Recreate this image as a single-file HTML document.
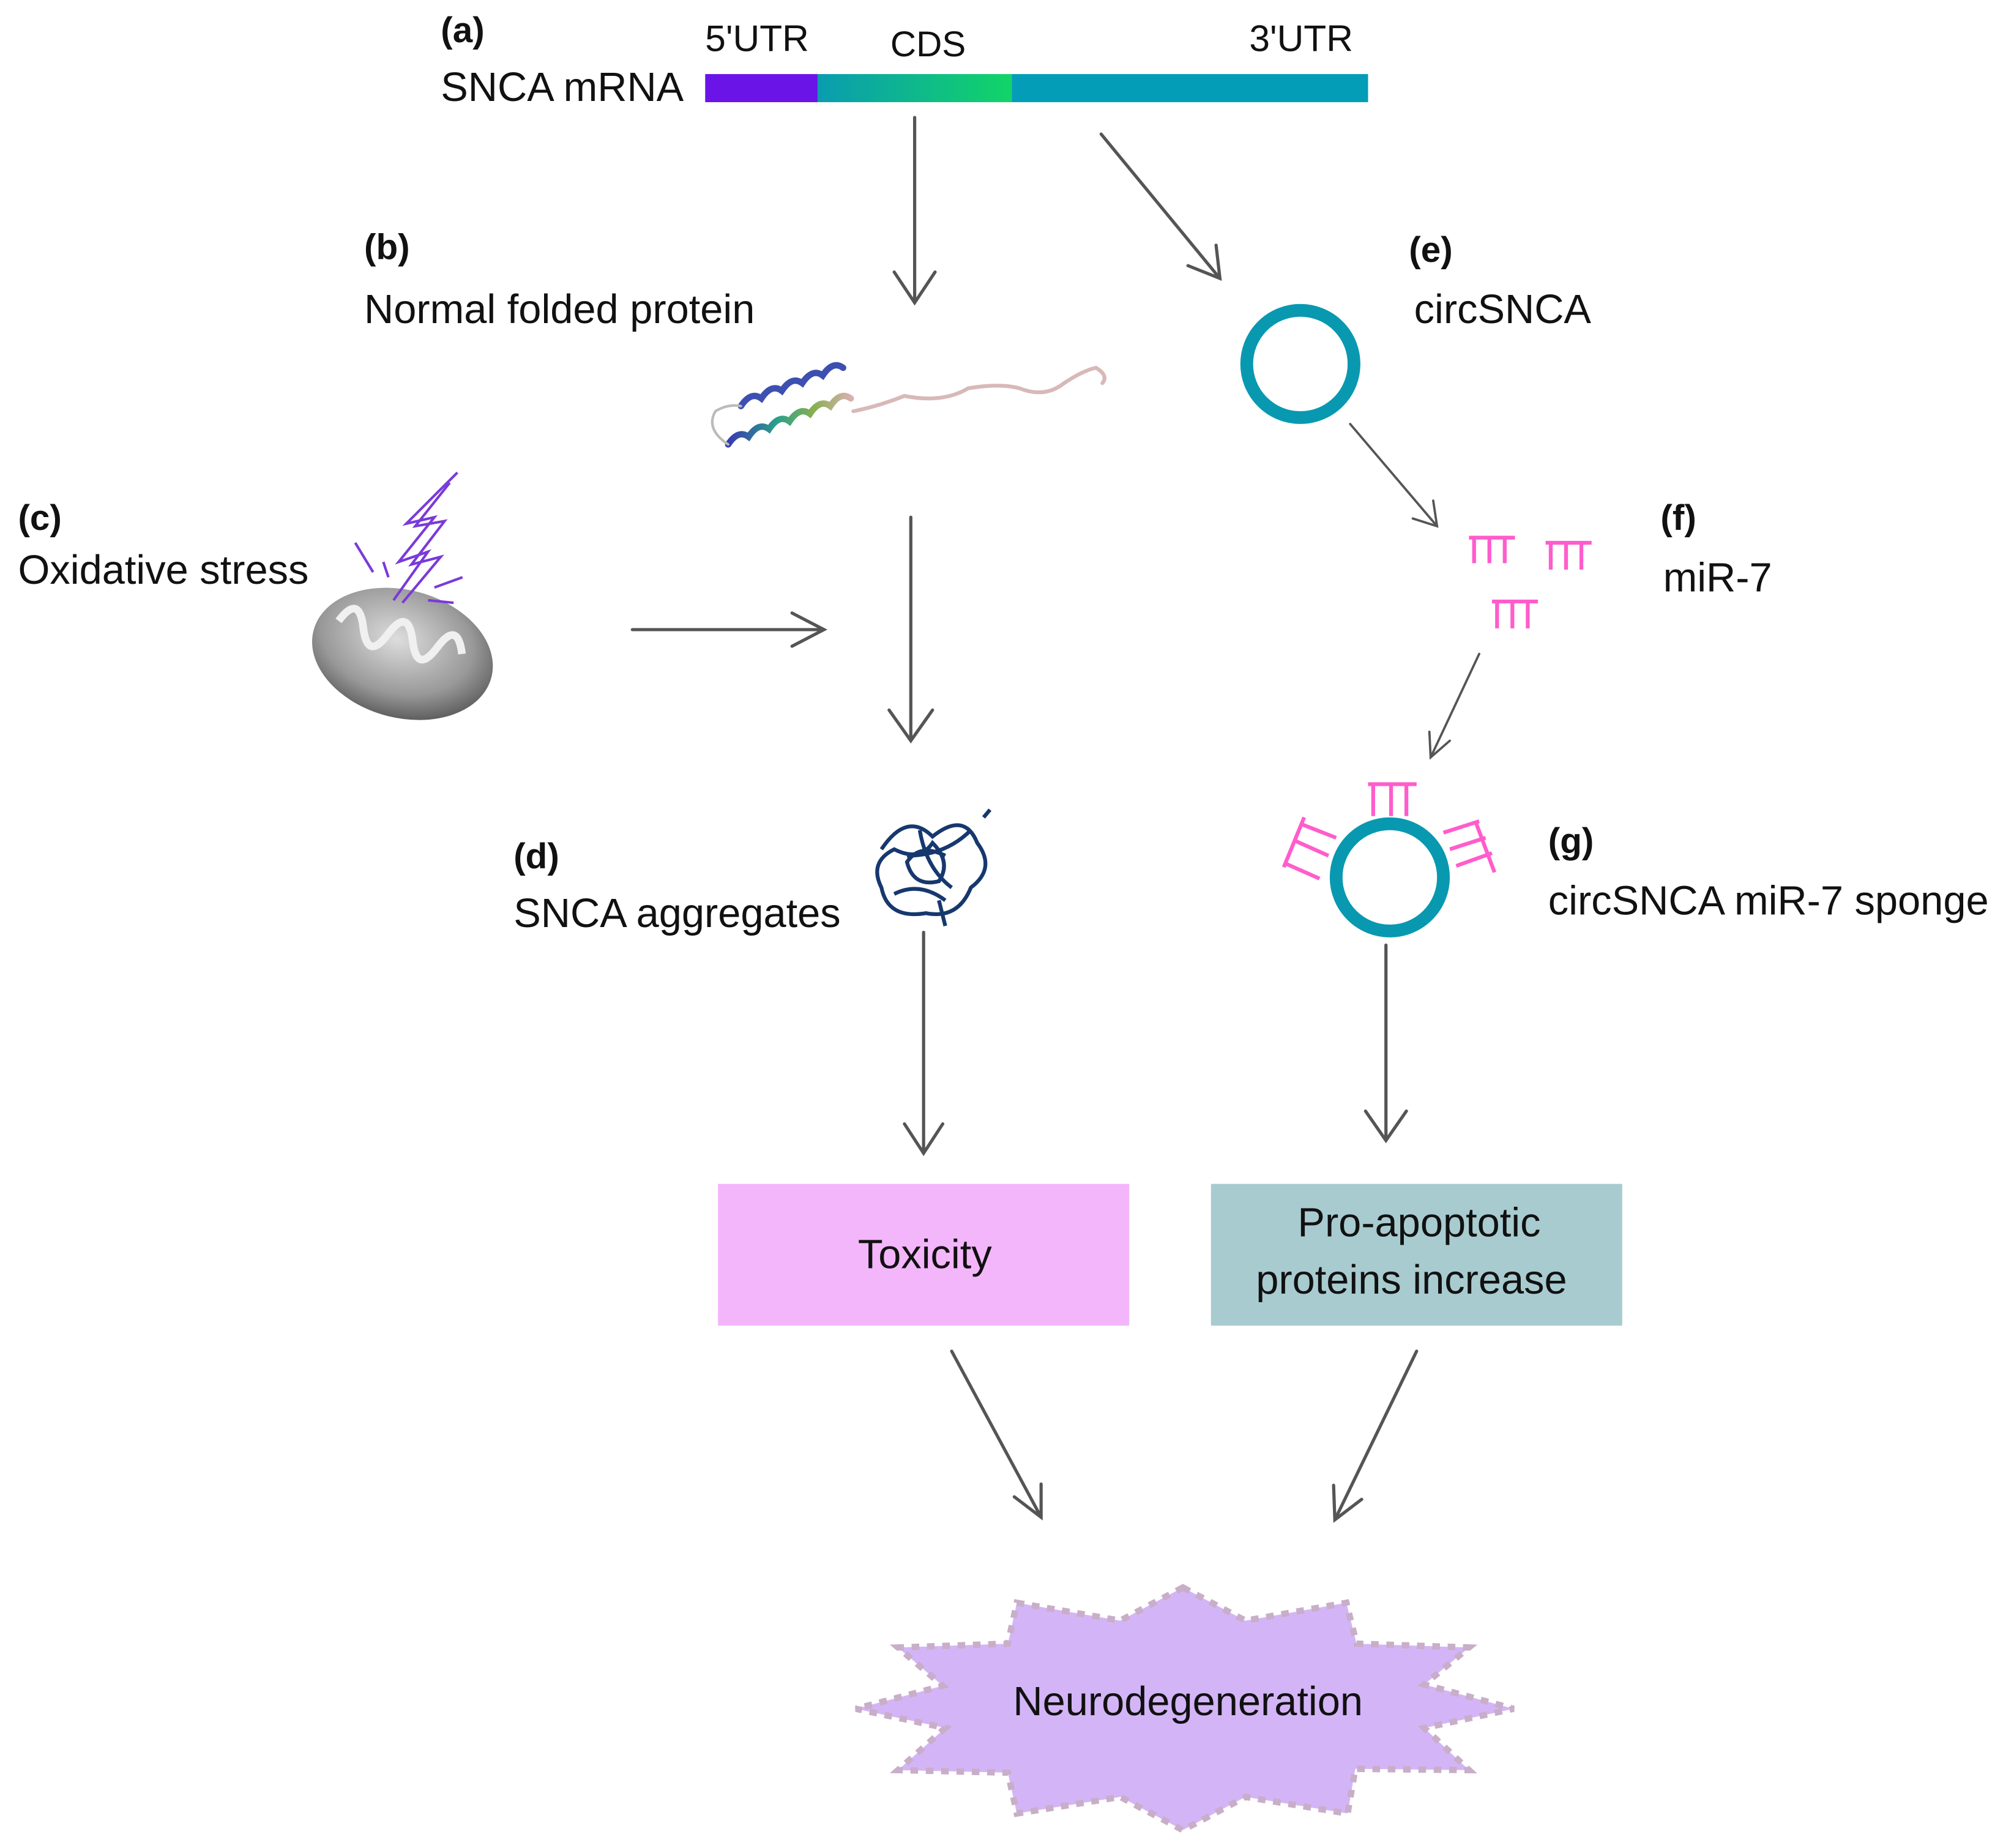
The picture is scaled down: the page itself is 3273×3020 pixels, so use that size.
<!DOCTYPE html>
<html><head><meta charset="utf-8"><style>
html,body{margin:0;padding:0;background:#fff;}
svg{display:block;}
text{font-family:"Liberation Sans",Arial,sans-serif;fill:#111;}
</style></head><body>
<svg width="3273" height="3020" viewBox="0 0 1568 1447" xmlns="http://www.w3.org/2000/svg">
<defs>
<linearGradient id="cds" x1="0" x2="1"><stop offset="0" stop-color="#0a9cb0"/><stop offset="1" stop-color="#12d468"/></linearGradient>
<radialGradient id="mito" cx="0.45" cy="0.4" r="0.7"><stop offset="0" stop-color="#ddd"/><stop offset="0.6" stop-color="#999"/><stop offset="1" stop-color="#444"/></radialGradient>
<linearGradient id="helix" x1="0" x2="1"><stop offset="0" stop-color="#3a3ab0"/><stop offset="0.4" stop-color="#2aa08a"/><stop offset="0.7" stop-color="#88b050"/><stop offset="1" stop-color="#d8b0b0"/></linearGradient>
</defs>
<rect width="1568" height="1447" fill="#fff"/>

<rect x="552" y="58" width="88" height="22" fill="#6a14e8"/>
<rect x="640" y="58" width="152" height="22" fill="url(#cds)"/>
<rect x="792" y="58" width="279" height="22" fill="#049db8"/>
<text x="345" y="33" font-size="28" font-weight="bold">(a)</text>
<text x="345" y="79" font-size="32">SNCA mRNA</text>
<text x="552" y="40" font-size="29">5'UTR</text>
<text x="697" y="44" font-size="28">CDS</text>
<text x="978" y="40" font-size="29">3'UTR</text>

<g stroke="#555" stroke-width="2.5" fill="none" stroke-linecap="round">
<path d="M716 92 V237 M700 213 L716 237 L732 213"/>
<path d="M862 105 L955 218 M930 208 L955 218 L952 192"/>
<path d="M495 493 H645 M620 480 L645 493 L620 506"/>
<path d="M713 405 V580 M696 556 L713 580 L730 556"/>
<path d="M723 730 V903 M708 880 L723 903 L738 880"/>
<path d="M745 1058 L815 1188 M794 1172 L815 1188 L815 1162"/>
<path d="M1109 1058 L1045 1190 M1044 1163 L1045 1190 L1066 1174"/>
<path d="M1085 740 V893 M1069 870 L1085 893 L1101 870"/>
</g>
<g stroke="#555" stroke-width="1.8" fill="none" stroke-linecap="round">
<path d="M1057 332 L1125 412 M1106 406 L1125 412 L1122 392"/>
<path d="M1158 512 L1120 593 M1119 573 L1120 593 L1135 580"/>
</g>

<text x="285" y="203" font-size="28" font-weight="bold">(b)</text>
<text x="285" y="253" font-size="32">Normal folded protein</text>
<g fill="none" stroke-linecap="round">
<path d="M580 318 q8 -12 16 -6 q8 -12 16 -6 q8 -12 16 -6 q8 -12 16 -6 q8 -12 16 -6" stroke="#3d4fb0" stroke-width="5"/>
<path d="M570 348 q8 -12 16 -6 q8 -12 16 -6 q8 -12 16 -6 q8 -12 16 -6 q8 -12 16 -6 q8 -12 16 -6" stroke="url(#helix)" stroke-width="5"/>
<path d="M570 348 q-18 -12 -10 -26 q10 -6 20 -4" stroke="#bbb" stroke-width="2"/>
<path d="M668 322 q20 -4 40 -12 q30 6 50 -6 q25 -4 40 0 q20 8 35 -4 q15 -10 25 -12 q10 6 5 12" stroke="#d8b8b8" stroke-width="3"/>
</g>

<text x="14" y="415" font-size="28" font-weight="bold">(c)</text>
<text x="14" y="457" font-size="32">Oxidative stress</text>
<ellipse cx="315" cy="512" rx="72" ry="50" transform="rotate(15 315 512)" fill="url(#mito)"/>
<path d="M260 500 q10 -25 20 0 q10 25 20 0 q10 -25 20 0 q10 25 20 0 q10 -25 20 0" stroke="#f0f0f0" stroke-width="6" fill="none" transform="rotate(15 315 512)"/>
<g stroke="#7a3ad8" stroke-width="2" fill="none">
<path d="M358 370 L318 410 L340 405 L312 440 L335 432 L308 470"/>
<path d="M352 378 L325 412 L348 408 L322 442 L345 436 L315 472"/>
<path d="M278 425 L292 448 M300 440 L304 452 M340 460 L362 452 M335 470 L355 472"/>
</g>

<text x="402" y="680" font-size="28" font-weight="bold">(d)</text>
<text x="402" y="726" font-size="32">SNCA aggregates</text>
<g stroke="#16386e" stroke-width="3" fill="none">
<path d="M690 665 q20 -30 40 -10 q25 -20 35 5 q15 20 -5 35 q-10 25 -35 20 q-30 5 -35 -20 q-10 -20 10 -30 q20 10 30 -5 q15 15 5 30 q-20 5 -25 -15 q10 -15 30 -5 M700 700 q20 -10 40 5 M720 650 q5 30 25 45 M760 650 q-20 20 -50 20"/>
<path d="M735 705 L740 725 M770 640 l5 -6"/>
</g>

<rect x="562" y="927" width="322" height="111" fill="#f4b6fb"/>
<text x="724" y="993" font-size="32" text-anchor="middle">Toxicity</text>
<rect x="948" y="927" width="322" height="111" fill="#a8cbd0"/>
<text x="1111" y="968" font-size="32" text-anchor="middle">Pro-apoptotic</text>
<text x="1105" y="1013" font-size="32" text-anchor="middle">proteins increase</text>

<text x="1103" y="205" font-size="28" font-weight="bold">(e)</text>
<text x="1107" y="253" font-size="32">circSNCA</text>
<circle cx="1018" cy="285" r="42" fill="none" stroke="#0899b0" stroke-width="10"/>

<g stroke="#ff5ccc" stroke-width="3" fill="none">
<path d="M1150 421 H1186 M1154 421 V441 M1166 421 V441 M1178 421 V441"/>
<path d="M1210 425 H1246 M1214 425 V446 M1226 425 V446 M1238 425 V446"/>
<path d="M1168 471 H1204 M1172 471 V492 M1184 471 V492 M1196 471 V492"/>
<path d="M1071 614 H1109 M1075 614 V639 M1089 614 V639 M1101 614 V639"/>
<path d="M1021 640 L1005 679 M1018 645 L1046 656 M1013 658 L1040 670 M1006 676 L1033 688"/>
<path d="M1155 643 L1170 683 M1130 652 L1158 643 M1135 665 L1163 656 M1140 678 L1168 668"/>
</g>
<text x="1300" y="415" font-size="28" font-weight="bold">(f)</text>
<text x="1302" y="463" font-size="32">miR-7</text>

<circle cx="1088" cy="687" r="42" fill="none" stroke="#0899b0" stroke-width="10"/>
<text x="1212" y="668" font-size="28" font-weight="bold">(g)</text>
<text x="1212" y="716" font-size="32">circSNCA miR-7 sponge</text>

<polygon points="926,1243 975,1269 1054,1255 1062,1287 1150,1290 1115,1319 1185,1338 1115,1353 1150,1386 1061,1385 1055,1420 975,1407 926,1433 877,1407 796,1420 789,1388 703,1386 740,1353 670,1338 738,1320 703,1290 789,1287 796,1255 877,1269" fill="#d3b5f7" stroke="#c8aec8" stroke-width="5" stroke-dasharray="6 6"/>
<text x="930" y="1343" font-size="32" text-anchor="middle">Neurodegeneration</text>
</svg>
</body></html>
